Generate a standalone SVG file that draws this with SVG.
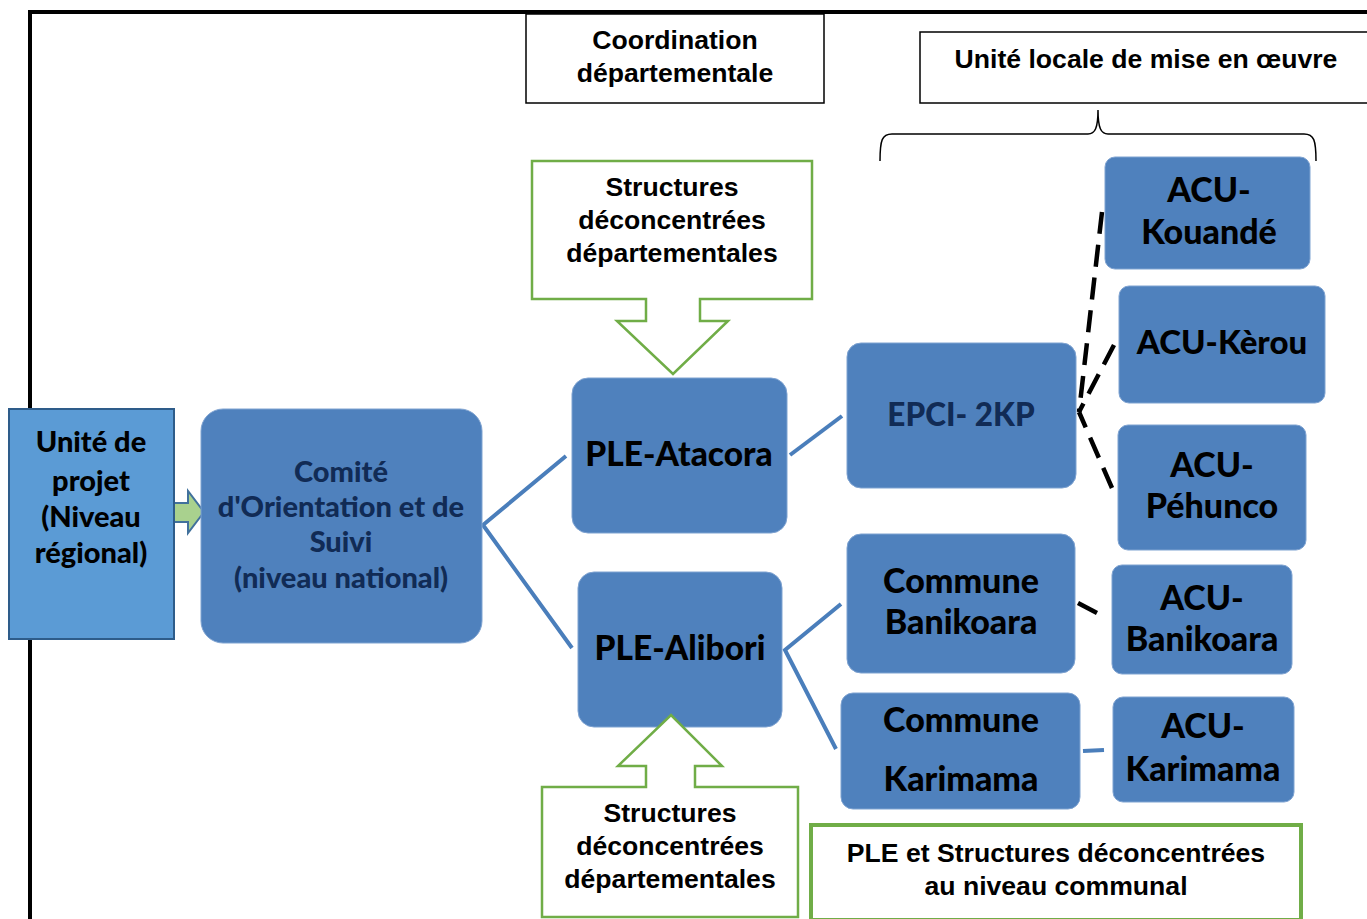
<svg xmlns="http://www.w3.org/2000/svg" width="1367" height="919" viewBox="0 0 1367 919">
<style>
.node{fill:#4F81BD;stroke:#7FA3D1;stroke-width:1}
.nt{font-family:Lato,"Open Sans",sans-serif;font-weight:900;fill:#000;text-anchor:middle}
.nv{fill:#112B55}
.lbl{font-family:"Liberation Sans",Arial,sans-serif;font-weight:bold;font-size:26.6px;fill:#000;text-anchor:middle}
.green{fill:#fff;stroke:#70AD47;stroke-width:2.5}
.con{stroke:#4A7EBB;stroke-width:4;fill:none}
.dash{stroke:#000;stroke-width:4.5;fill:none;stroke-dasharray:22 11}
</style>
<rect width="1367" height="919" fill="#fff"/>
<path d="M30,919 V12 H1367" fill="none" stroke="#000" stroke-width="4"/>

<g id="coordination">
<rect x="526" y="14" width="298" height="89" fill="#fff" stroke="#000" stroke-width="1.5"/>
<text class="lbl" x="675" y="49">Coordination</text>
<text class="lbl" x="675" y="82">départementale</text>
</g>

<g id="unite-locale">
<rect x="920" y="32" width="452" height="71" fill="#fff" stroke="#000" stroke-width="1.5"/>
<text class="lbl" x="1146" y="68">Unité locale de mise en œuvre</text>
</g>

<g id="brace">
<path d="M880,161 C880,140 882,134 892,134 L1088,134 C1095,134 1098,128 1098,110 C1098,128 1101,134 1108,134 L1304,134 C1314,134 1316,140 1316,161" fill="none" stroke="#000" stroke-width="1.5"/>
</g>

<g id="connectors">
<polyline class="con" points="566,456 483,525 572,648"/>
<line class="con" x1="790" y1="455" x2="842" y2="416"/>
<polyline class="con" points="841,604 785,650 836,749"/>
<line class="con" x1="1083" y1="751" x2="1104" y2="750"/>
<line class="dash" x1="1102" y1="212" x2="1079" y2="412"/>
<line class="dash" x1="1114" y1="345" x2="1079" y2="412"/>
<line class="dash" x1="1112" y1="488" x2="1079" y2="412"/>
<line x1="1078" y1="603" x2="1097" y2="613" stroke="#000" stroke-width="4.5"/>
<path d="M174,503 H188 V491 L204,512 L188,533 V522 H174 Z" fill="#A9D18E" stroke="#41719C" stroke-width="2"/>
</g>

<g id="struct-top">
<path class="green" d="M532,161 H812 V299 H700 V321 H728 L673,374 L617,321 H646 V299 H532 Z"/>
<text class="lbl" x="672" y="196">Structures</text>
<text class="lbl" x="672" y="229">déconcentrées</text>
<text class="lbl" x="672" y="262">départementales</text>
</g>

<g id="ple-communal">
<rect x="811" y="825" width="490" height="95" fill="#fff" stroke="#70AD47" stroke-width="4"/>
<text class="lbl" x="1056" y="862">PLE et Structures déconcentrées</text>
<text class="lbl" x="1056" y="895">au niveau communal</text>
</g>

<g id="unite-projet">
<rect x="9" y="409" width="165" height="230" fill="#5B9BD5" stroke="#2E5C8A" stroke-width="2"/>
<text class="nt" x="91" y="452" font-size="29">Unité de</text>
<text class="nt" x="91" y="491" font-size="29">projet</text>
<text class="nt" x="91" y="527" font-size="29">(Niveau</text>
<text class="nt" x="91" y="563" font-size="29">régional)</text>
</g>

<g id="comite">
<rect class="node" x="201" y="409" width="281" height="234" rx="22"/>
<text class="nt nv" x="341" y="482" font-size="29">Comité</text>
<text class="nt nv" x="341" y="517" font-size="29">d'Orientation et de</text>
<text class="nt nv" x="341" y="552" font-size="29">Suivi</text>
<text class="nt nv" x="341" y="588" font-size="29">(niveau national)</text>
</g>

<g id="ple-atacora">
<rect class="node" x="572" y="378" width="215" height="155" rx="16"/>
<text class="nt" x="679" y="466" font-size="33.5">PLE-Atacora</text>
</g>

<g id="ple-alibori">
<rect class="node" x="578" y="572" width="204" height="155" rx="16"/>
<text class="nt" x="680" y="660" font-size="33.5">PLE-Alibori</text>
</g>

<g id="struct-bottom">
<path class="green" d="M542,787 H646 V766 H618 L671,715 L722,766 H695 V787 H798 V917 H542 Z"/>
<text class="lbl" x="670" y="822">Structures</text>
<text class="lbl" x="670" y="855">déconcentrées</text>
<text class="lbl" x="670" y="888">départementales</text>
</g>

<g id="epci">
<rect class="node" x="847" y="343" width="229" height="145" rx="14"/>
<text class="nt nv" x="961" y="426" font-size="31.5">EPCI- 2KP</text>
</g>

<g id="commune-banikoara">
<rect class="node" x="847" y="534" width="228" height="139" rx="14"/>
<text class="nt" x="961" y="593" font-size="34">Commune</text>
<text class="nt" x="961" y="634" font-size="34">Banikoara</text>
</g>

<g id="commune-karimama">
<rect class="node" x="841" y="693" width="239" height="116" rx="12"/>
<text class="nt" x="961" y="732" font-size="34">Commune</text>
<text class="nt" x="961" y="791" font-size="34">Karimama</text>
</g>

<g id="acu-kouande">
<rect class="node" x="1105" y="157" width="205" height="112" rx="10"/>
<text class="nt" x="1209" y="202" font-size="34">ACU-</text>
<text class="nt" x="1209" y="244" font-size="34">Kouandé</text>
</g>

<g id="acu-kerou">
<rect class="node" x="1119" y="286" width="206" height="117" rx="10"/>
<text class="nt" x="1222" y="354" font-size="33">ACU-Kèrou</text>
</g>

<g id="acu-pehunco">
<rect class="node" x="1118" y="425" width="188" height="125" rx="10"/>
<text class="nt" x="1212" y="477" font-size="34">ACU-</text>
<text class="nt" x="1212" y="518" font-size="34">Péhunco</text>
</g>

<g id="acu-banikoara">
<rect class="node" x="1112" y="565" width="180" height="109" rx="10"/>
<text class="nt" x="1202" y="610" font-size="34">ACU-</text>
<text class="nt" x="1202" y="651" font-size="34">Banikoara</text>
</g>

<g id="acu-karimama">
<rect class="node" x="1113" y="697" width="181" height="105" rx="10"/>
<text class="nt" x="1203" y="738" font-size="34">ACU-</text>
<text class="nt" x="1203" y="781" font-size="34">Karimama</text>
</g>
</svg>
